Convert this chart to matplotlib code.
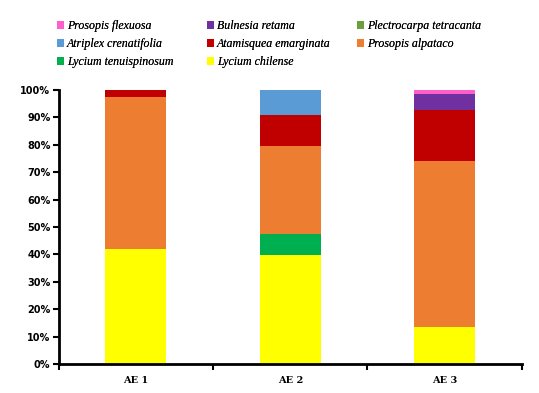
import matplotlib
matplotlib.use('Agg')
import numpy as np
import matplotlib.pyplot as plt
from matplotlib.patches import Patch
from matplotlib.ticker import FuncFormatter

sites = ['AE 1', 'AE 2', 'AE 3']

# stacking order, bottom to top (percent of each site)
lycium_chilense = [41.9, 39.6, 13.5]
lycium_tenuispinosum = [0.0, 7.7, 0.0]
prosopis_alpataco = [55.7, 32.4, 60.7]
atamisquea_emarginata = [2.4, 11.1, 18.4]
atriplex_crenatifolia = [0.0, 9.2, 0.0]
plectrocarpa_tetracanta = [0.0, 0.0, 0.0]
bulnesia_retama = [0.0, 0.0, 5.9]
prosopis_flexuosa = [0.0, 0.0, 1.5]

series = [
    ('Lycium chilense', lycium_chilense, '#FFFF00'),
    ('Lycium tenuispinosum', lycium_tenuispinosum, '#00B050'),
    ('Prosopis alpataco', prosopis_alpataco, '#ED7D31'),
    ('Atamisquea emarginata', atamisquea_emarginata, '#C00000'),
    ('Atriplex crenatifolia', atriplex_crenatifolia, '#5B9BD5'),
    ('Plectrocarpa tetracanta', plectrocarpa_tetracanta, '#6A9F3E'),
    ('Bulnesia retama', bulnesia_retama, '#7030A0'),
    ('Prosopis flexuosa', prosopis_flexuosa, '#FF5FCB'),
]

fig = plt.figure(figsize=(5.39, 3.93), dpi=100)
ax = fig.add_axes([0.109, 0.074, 0.859, 0.697])

x = np.arange(len(sites))
bottom = np.zeros(len(sites))
for name, vals, col in series:
    vals = np.array(vals)
    ax.bar(x, vals, 0.395, bottom=bottom, color=col, edgecolor='none', zorder=2)
    bottom += vals

ax.set_xlim(-0.5, 2.5)
ax.set_ylim(0, 100)
ax.set_yticks(np.arange(0, 101, 10))
ax.yaxis.set_major_formatter(FuncFormatter(lambda v, p: '%d%%' % v))
ax.set_xticks(x)
ax.set_xticklabels(sites, family='DejaVu Serif', fontweight='bold', fontsize=7)
ax.set_xticks([-0.5, 0.5, 1.5, 2.5], minor=True)
ax.tick_params(axis='x', which='major', length=0, pad=9)
ax.tick_params(axis='x', which='minor', length=4, width=1.5, direction='out')
ax.tick_params(axis='y', length=4, width=1.5, direction='out', pad=2)
for lab in ax.get_yticklabels():
    lab.set_fontweight('bold')
    lab.set_fontsize(7)

for s in ['top', 'right']:
    ax.spines[s].set_visible(False)
for s in ['left', 'bottom']:
    ax.spines[s].set_linewidth(2)

# legend: one column at a time so the columns line up like the original
colors = {n: c for n, v, c in series}
columns = [
    ['Prosopis flexuosa', 'Atriplex crenatifolia', 'Lycium tenuispinosum'],
    ['Bulnesia retama', 'Atamisquea emarginata', 'Lycium chilense'],
    ['Plectrocarpa tetracanta', 'Prosopis alpataco'],
]
col_x = [0.1058, 0.384, 0.662]
for names, cx in zip(columns, col_x):
    handles = [Patch(facecolor=colors[n], edgecolor='none', label=n) for n in names]
    leg = fig.legend(handles=handles, loc='upper left', bbox_to_anchor=(cx, 0.949),
                     frameon=False, borderpad=0, borderaxespad=0,
                     handlelength=0.62, handleheight=0.62, handletextpad=0.2,
                     labelspacing=0.52,
                     prop={'family': 'Liberation Serif', 'style': 'italic', 'size': 8.6})
    fig.add_artist(leg)

fig.savefig('out.png', dpi=100)
